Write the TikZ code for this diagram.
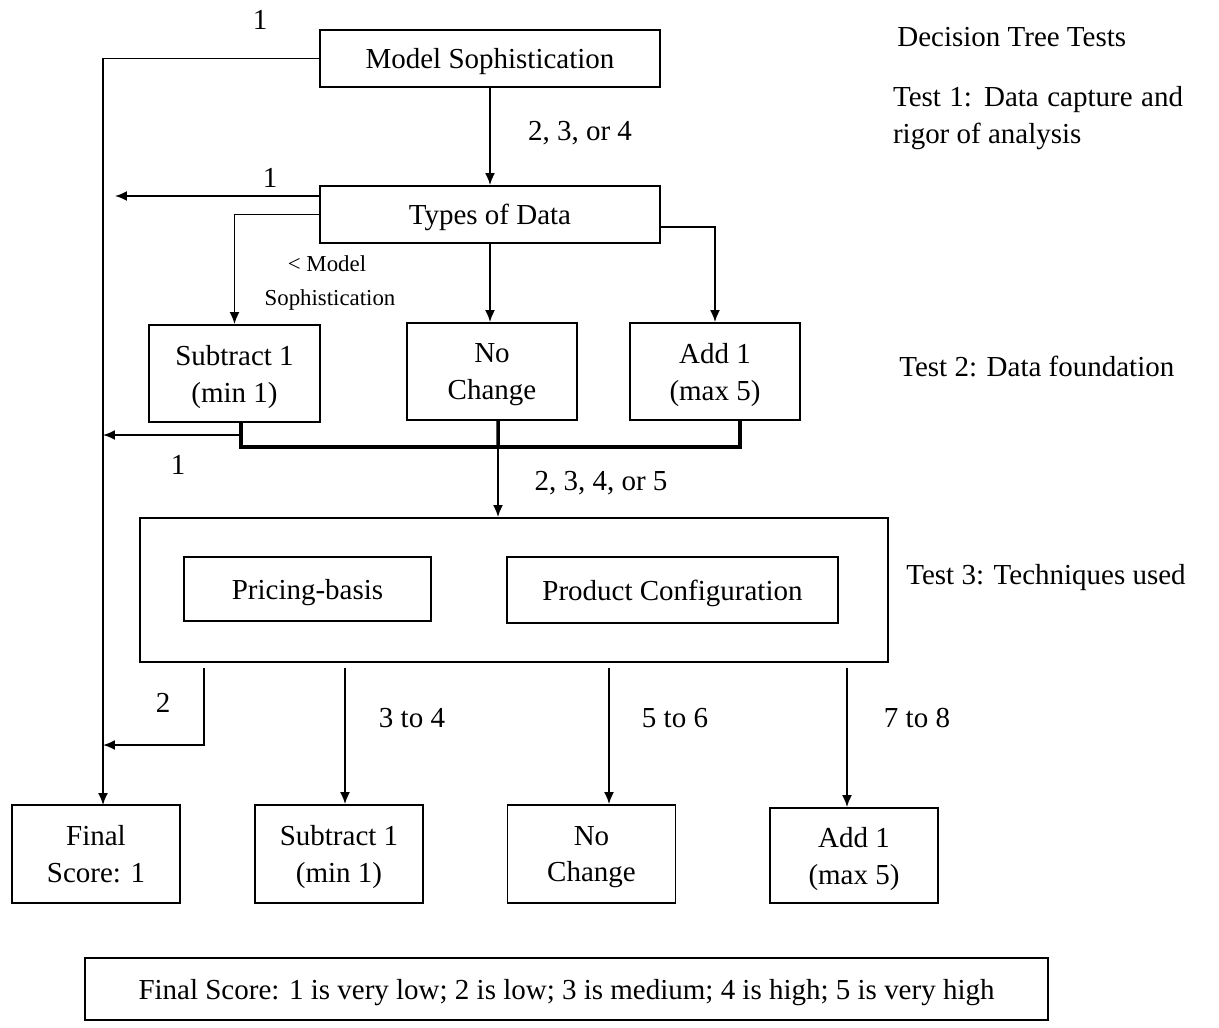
\documentclass[tikz,border=0pt]{standalone}
\usepackage{fontspec}
\setmainfont{Liberation Serif}
\usetikzlibrary{arrows.meta}
\begin{document}
\begin{tikzpicture}
    [
    x=0.02cm,y=-0.02cm,
    txt/.style={inner sep=0pt,font=\fontsize{16.5}{21}\selectfont},
    small/.style={inner sep=0pt,font=\fontsize{13}{16}\selectfont},
    box/.style={txt,draw,line width=1.1pt,align=center,text depth=0pt,minimum width=3.4cm,minimum height=1.94cm},
    wide/.style={box,minimum width=6.8cm,minimum height=1.14cm},
    arr/.style={-{Latex[length=2.4mm,width=2mm]},line width=1pt},
    bus/.style={line width=2pt}
    ]
    \useasboundingbox (0,0) rectangle (1219,1027);
    \node (ms) at (490,58.5) [wide] {Model Sophistication};
    \node (td) at (490,214.5) [wide] {Types of Data};
    \node (sub) at (234.5,373.5) [box,minimum width=3.42cm] {Subtract 1\\(min 1)};
    \node (nc) at (492,371.5) [box] {No\\Change};
    \node (add) at (715,371.5) [box] {Add 1\\(max 5)};
    \node (t3) at (514,590) [box,minimum width=14.96cm,minimum height=2.88cm] {};
    \node (pb) at (307.5,589) [box,minimum width=4.94cm,minimum height=1.28cm] {Pricing-basis};
    \node (pc) at (672.5,590) [box,minimum width=6.62cm,minimum height=1.32cm] {Product Configuration};
    \node (fs) at (96,854) [box,minimum width=3.36cm,minimum height=1.96cm] {Final\\Score: 1};
    \node (sub2) at (339,854) [box,minimum width=3.36cm,minimum height=1.96cm] {Subtract 1\\(min 1)};
    \node (nc2) at (591.5,854) [box,minimum width=3.36cm,minimum height=1.96cm] {No\\Change};
    \node (add2) at (854,855.5) [box,minimum width=3.36cm,minimum height=1.9cm] {Add 1\\(max 5)};
    \node (key) at (566.5,989) [box,minimum width=19.26cm,minimum height=1.24cm] {Final Score: 1 is very low; 2 is low; 3 is medium; 4 is high; 5 is very high};
    \node (head) at (897,37) [txt,anchor=west] {Decision Tree Tests};
    \node (test1) at (1038,118) [txt,text width=5.8cm,align=justify] {Test 1: Data capture and rigor of analysis};
    \node (test2) at (899,366) [txt,anchor=west] {Test 2: Data foundation};
    \node (test3) at (906,578) [txt,anchor=west] {Test 3: Techniques used};
    \node (l1) at (260,20) [txt] {1};
    \node (l2) at (580,133) [txt] {2, 3, or 4};
    \node (l3) at (270,178) [txt] {1};
    \node (l4) at (327,264) [small] {< Model};
    \node (l5) at (330,300) [small] {Sophistication};
    \node (l6) at (178,465) [txt] {1};
    \node (l7) at (601,483) [txt] {2, 3, 4, or 5};
    \node (l8) at (163,703) [txt] {2};
    \node (l9) at (412,718) [txt] {3 to 4};
    \node (l10) at (675,718) [txt] {5 to 6};
    \node (l11) at (917,718) [txt] {7 to 8};
    \coordinate (fsin) at (103,805);
    \coordinate (tdl) at (115,196);
    \coordinate (jn) at (498,447);
    \coordinate (sb) at (241,435);
    \coordinate (sbl) at (103,435);
    \coordinate (q1) at (204,668);
    \coordinate (q1e) at (103,745);
    \coordinate (q2) at (345,668);
    \coordinate (q3) at (609,668);
    \coordinate (q4) at (847,668);
    \draw [arr] (ms.west) -| (fsin);
    \draw [arr] (ms.south) to (td.north);
    \draw [arr] ([yshift=0.37cm]td.west) to (tdl);
    \draw [arr] (td.west) -| (sub.north);
    \draw [arr] (td.south) to (td.south |- nc.north);
    \draw [arr] ([yshift=-0.25cm]td.east) -| (add.north);
    \draw [bus] ([xshift=0.13cm]sub.south) |- (jn) -| ([xshift=0.5cm]add.south);
    \draw [bus] ([xshift=0.12cm]nc.south) to (jn);
    \draw [arr] (sb) to (sbl);
    \draw [arr] (jn) to (jn |- t3.north);
    \draw [arr] (q1) |- (q1e);
    \draw [arr] (q2) to (q2 |- sub2.north);
    \draw [arr] (q3) to (q3 |- nc2.north);
    \draw [arr] (q4) to (q4 |- add2.north);
  \end{tikzpicture}
\end{document}
